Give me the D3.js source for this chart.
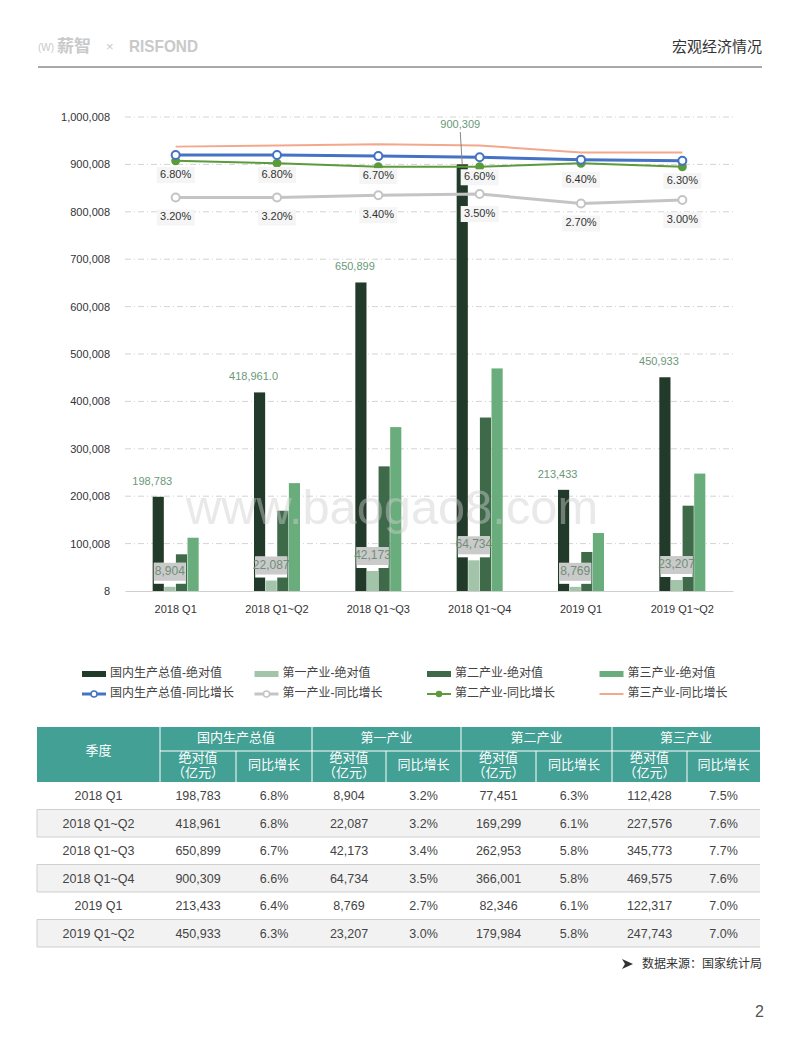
<!DOCTYPE html>
<html>
<head>
<meta charset="utf-8">
<script src="https://cdn.jsdelivr.net/npm/d3@7"></script>
<style>
  body { margin: 0; background: #fff; }
  svg { display: block; }
</style>
</head>
<body>
<div id="page"></div>
<script>
// data
const categories = ["2018 Q1", "2018 Q1~Q2", "2018 Q1~Q3", "2018 Q1~Q4", "2019 Q1", "2019 Q1~Q2"];
const gdpAbs = [198783, 418961, 650899, 900309, 213433, 450933];
const gdpYoy = [6.8, 6.8, 6.7, 6.6, 6.4, 6.3];
const primaryAbs = [8904, 22087, 42173, 64734, 8769, 23207];
const primaryYoy = [3.2, 3.2, 3.4, 3.5, 2.7, 3.0];
const secondaryAbs = [77451, 169299, 262953, 366001, 82346, 179984];
const secondaryYoy = [6.3, 6.1, 5.8, 5.8, 6.1, 5.8];
const tertiaryAbs = [112428, 227576, 345773, 469575, 122317, 247743];
const tertiaryYoy = [7.5, 7.6, 7.7, 7.6, 7.0, 7.0];
const gdpLabels = ["198,783", "418,961.0", "650,899", "900,309", "213,433", "450,933"];
const yTicks = [8, 100008, 200008, 300008, 400008, 500008, 600008, 700008, 800008, 900008, 1000008];
const barNames = ["国内生产总值-绝对值", "第一产业-绝对值", "第二产业-绝对值", "第三产业-绝对值"];
const lineNames = ["国内生产总值-同比增长", "第一产业-同比增长", "第二产业-同比增长", "第三产业-同比增长"];
const groupHeads = ["国内生产总值", "第一产业", "第二产业", "第三产业"];

const W = 800, H = 1045;
const FONT = "'Liberation Sans', 'Noto Sans CJK SC', sans-serif";
const barColors = ["#213a29", "#a2c4a9", "#3e6a4a", "#68ad7b"];
const lineColors = ["#4472c4", "#c4c4c4", "#5c9b3c", "#f3a88e"];

const svg = d3.select("#page").append("svg")
    .attr("width", W).attr("height", H)
    .style("font-family", FONT);

/*********************************************/
/*              page header                  */
/*********************************************/
const head = svg.append("g").attr("fill", "#c9c9c9");
head.append("text").attr("x", 38).attr("y", 51).style("font-size", "10px").text("(W)");
head.append("text").attr("x", 57).attr("y", 52).style("font-size", "17px").style("font-weight", 700).text("薪智");
head.append("text").attr("x", 106).attr("y", 51).style("font-size", "13px").text("×");
head.append("text").attr("x", 129).attr("y", 52).style("font-size", "17px").style("font-weight", 700)
    .attr("textLength", 69).attr("lengthAdjust", "spacingAndGlyphs").text("RISFOND");
svg.append("text").attr("x", 762).attr("y", 52).attr("text-anchor", "end")
    .attr("fill", "#333").style("font-size", "15px").text("宏观经济情况");
svg.append("line").attr("x1", 38).attr("x2", 762).attr("y1", 67).attr("y2", 67)
    .attr("stroke", "#8c8c8c").attr("stroke-width", 1.5);

/*********************************************/
/*              chart                        */
/*********************************************/
const plotLeft = 125, plotRight = 733, plotTop = 117, plotBottom = 591;

const x = d3.scaleBand().domain(categories).range([plotLeft, plotRight]);
const sub = d3.scaleBand().domain(d3.range(4)).range([-23, 23]).paddingInner(0.04);
const y = d3.scaleLinear().domain([8, 1000008]).range([plotBottom, plotTop]);
const y2 = d3.scaleLinear().domain([-30, 10]).range([plotBottom, plotTop]);
const cx = c => x(c) + x.bandwidth() / 2;

// grid + y labels
const yAxis = d3.axisLeft(y).tickValues(yTicks).tickFormat(d3.format(",")).tickSize(0).tickPadding(15);
const gy = svg.append("g").attr("transform", `translate(${plotLeft},0)`).call(yAxis);
gy.select(".domain").remove();
gy.selectAll("text").attr("fill", "#333").style("font-size", "11px").style("font-family", FONT);

svg.append("g").selectAll("line")
    .data(yTicks.slice(1))
    .join("line")
    .attr("x1", plotLeft).attr("x2", plotRight)
    .attr("y1", d => y(d)).attr("y2", d => y(d))
    .attr("stroke", "#d3d3d3").attr("stroke-dasharray", "6,3,1,3");

const xAxis = d3.axisBottom(x).tickSize(0).tickPadding(14);
const gx = svg.append("g").attr("transform", `translate(0,${plotBottom})`).call(xAxis);
gx.select(".domain").attr("stroke", "#cfcfcf");
gx.selectAll("text").attr("fill", "#333").style("font-size", "11px").style("font-family", FONT);

// bars
const barSeries = [gdpAbs, primaryAbs, secondaryAbs, tertiaryAbs];
barSeries.forEach((vals, s) => {
    svg.append("g").selectAll("rect")
        .data(vals)
        .join("rect")
        .attr("x", (d, i) => cx(categories[i]) + sub(s))
        .attr("width", sub.bandwidth())
        .attr("y", d => y(d))
        .attr("height", d => plotBottom - y(d))
        .attr("fill", barColors[s]);
});

// lines
const lineSeries = [tertiaryYoy, primaryYoy, secondaryYoy, gdpYoy];
const lineIdx = [3, 1, 2, 0];
lineSeries.forEach((vals, k) => {
    const s = lineIdx[k];
    const line = d3.line().x((d, i) => cx(categories[i])).y(d => y2(d));
    svg.append("path")
        .datum(vals)
        .attr("d", line)
        .attr("fill", "none")
        .attr("stroke", lineColors[s])
        .attr("stroke-width", s === 2 || s === 3 ? 2 : 3);
    if (s === 3) return;
    svg.append("g").selectAll("circle")
        .data(vals)
        .join("circle")
        .attr("cx", (d, i) => cx(categories[i]))
        .attr("cy", d => y2(d))
        .attr("r", s === 2 ? 3.5 : 4)
        .attr("fill", s === 2 ? lineColors[s] : "#fff")
        .attr("stroke", lineColors[s])
        .attr("stroke-width", 2);
});

// watermark
svg.append("text")
    .attr("x", 186).attr("y", 524)
    .attr("textLength", 412).attr("lengthAdjust", "spacingAndGlyphs")
    .attr("fill", "#cfcfcf").attr("opacity", 0.45)
    .style("font-size", "48px")
    .text("www.baogao8.com");

/*********************************************/
/*              labels                       */
/*********************************************/
const pctLabel = (vals) => {
    const g = svg.append("g");
    vals.forEach((v, i) => {
        const px = cx(categories[i]), py = y2(v) + 20;
        g.append("rect").attr("x", px - 19).attr("y", py - 8).attr("width", 38).attr("height", 16)
            .attr("fill", "#f5f5f5");
        g.append("text").attr("x", px).attr("y", py)
            .attr("text-anchor", "middle").attr("dominant-baseline", "middle")
            .attr("fill", "#333").style("font-size", "11px")
            .text(d3.format(".2f")(v) + "%");
    });
};
pctLabel(gdpYoy);
pctLabel(primaryYoy);

// GDP values above bars
gdpAbs.forEach((v, i) => {
    const bx = cx(categories[i]) + sub(0) + sub.bandwidth() / 2;
    let ly = y(v) - 15;
    if (ly < 185) {
        ly = plotTop + 8;
        svg.append("line").attr("x1", bx - 2).attr("y1", ly + 7).attr("x2", bx).attr("y2", y(v))
            .attr("stroke", "#888").attr("stroke-width", 1);
    }
    svg.append("text").attr("x", bx - (ly === plotTop + 8 ? 2 : 6)).attr("y", ly)
        .attr("text-anchor", "middle").attr("dominant-baseline", "middle")
        .attr("fill", "#6a9878").style("font-size", "11px")
        .text(gdpLabels[i]);
});

// primary industry value boxes
primaryAbs.forEach((v, i) => {
    const bx = cx(categories[i]) + sub(1) + sub.bandwidth() / 2;
    const by = y(v) - 15;
    svg.append("rect").attr("x", bx - 16).attr("y", by - 9).attr("width", 32).attr("height", 21).attr("fill", "#fff");
    svg.append("rect").attr("x", bx - 16).attr("y", by - 9).attr("width", 32).attr("height", 18).attr("fill", "#cacaca");
    svg.append("text").attr("x", bx).attr("y", by)
        .attr("text-anchor", "middle").attr("dominant-baseline", "middle")
        .attr("fill", "#6e8f78").style("font-size", "12px")
        .text(d3.format(",")(v));
});

/*********************************************/
/*              legend                       */
/*********************************************/
const legend = svg.append("g").style("font-size", "12px").attr("fill", "#444");
barNames.forEach((n, i) => {
    const lx = 82 + i * 172.5;
    legend.append("rect").attr("x", lx).attr("y", 671).attr("width", 24).attr("height", 6).attr("fill", barColors[i]);
    legend.append("text").attr("x", lx + 28).attr("y", 674).attr("dominant-baseline", "middle").text(n);
});
lineNames.forEach((n, i) => {
    const lx = 82 + i * 172.5, ly = 694;
    legend.append("line").attr("x1", lx).attr("x2", lx + 24).attr("y1", ly).attr("y2", ly)
        .attr("stroke", lineColors[i]).attr("stroke-width", i === 0 || i === 1 ? 3 : 2);
    if (i < 3) {
        legend.append("circle").attr("cx", lx + 12).attr("cy", ly).attr("r", i === 2 ? 2.5 : 3)
            .attr("fill", i === 2 ? lineColors[i] : "#fff").attr("stroke", lineColors[i]).attr("stroke-width", 1.5);
    }
    legend.append("text").attr("x", lx + 28).attr("y", ly).attr("dominant-baseline", "middle").text(n);
});

/*********************************************/
/*              table                        */
/*********************************************/
const colX = [37, 160, 236, 312, 386, 461, 536, 612, 687, 760];
const tTop = 727, tMid = 751, tHead = 782, rowH = 27.5;
const teal = "#43a095";
const tbl = svg.append("g");

tbl.append("rect").attr("x", colX[0]).attr("y", tTop).attr("width", colX[9] - colX[0]).attr("height", tHead - tTop).attr("fill", teal);
tbl.append("line").attr("x1", colX[1]).attr("x2", colX[9]).attr("y1", tMid).attr("y2", tMid).attr("stroke", "#fff");
colX.slice(1, 9).forEach((cxv, j) => {
    tbl.append("line").attr("x1", cxv).attr("x2", cxv)
        .attr("y1", j % 2 === 0 ? tTop : tMid).attr("y2", tHead).attr("stroke", "#fff");
});
const hText = (tx, ty, t) => tbl.append("text").attr("x", tx).attr("y", ty)
    .attr("text-anchor", "middle").attr("dominant-baseline", "middle")
    .attr("fill", "#fff").style("font-size", "13px").text(t);
hText((colX[0] + colX[1]) / 2, 752, "季度");
groupHeads.forEach((g, k) => {
    const a = colX[1 + 2 * k], m = colX[2 + 2 * k], b = colX[3 + 2 * k];
    hText((a + b) / 2, 739, g);
    hText((a + m) / 2, 759, "绝对值");
    hText((a + m) / 2, 774, "（亿元）");
    hText((m + b) / 2, 766, "同比增长");
});

const absCols = [gdpAbs, primaryAbs, secondaryAbs, tertiaryAbs];
const yoyCols = [gdpYoy, primaryYoy, secondaryYoy, tertiaryYoy];
categories.forEach((c, i) => {
    const ry = tHead + i * rowH;
    if (i % 2 === 1) {
        tbl.append("rect").attr("x", colX[0]).attr("y", ry).attr("width", colX[9] - colX[0]).attr("height", rowH)
            .attr("fill", "#f2f2f2");
        tbl.append("line").attr("x1", colX[0]).attr("x2", colX[9]).attr("y1", ry).attr("y2", ry).attr("stroke", "#cfcfcf");
        tbl.append("line").attr("x1", colX[0]).attr("x2", colX[9]).attr("y1", ry + rowH).attr("y2", ry + rowH).attr("stroke", "#cfcfcf");
        tbl.append("line").attr("x1", colX[0]).attr("x2", colX[0]).attr("y1", ry).attr("y2", ry + rowH).attr("stroke", "#cfcfcf");
    }
    const cells = [c];
    absCols.forEach((col, k) => {
        cells.push(d3.format(",")(col[i]));
        cells.push(d3.format(".1f")(yoyCols[k][i]) + "%");
    });
    cells.forEach((t, j) => {
        tbl.append("text").attr("x", (colX[j] + colX[j + 1]) / 2).attr("y", ry + rowH / 2 + 1)
            .attr("text-anchor", "middle").attr("dominant-baseline", "middle")
            .attr("fill", "#444").style("font-size", "12.5px").text(t);
    });
});

/*********************************************/
/*              footer                       */
/*********************************************/
svg.append("path").attr("d", "M622,959 L633,964 L622,969 L625,964 Z").attr("fill", "#333");
svg.append("text").attr("x", 762).attr("y", 965).attr("text-anchor", "end")
    .attr("dominant-baseline", "middle").attr("fill", "#333").style("font-size", "12px")
    .text("数据来源：国家统计局");
svg.append("text").attr("x", 764).attr("y", 1013).attr("text-anchor", "end")
    .attr("dominant-baseline", "middle").attr("fill", "#555").style("font-size", "16px")
    .text("2");
</script>
</body>
</html>
